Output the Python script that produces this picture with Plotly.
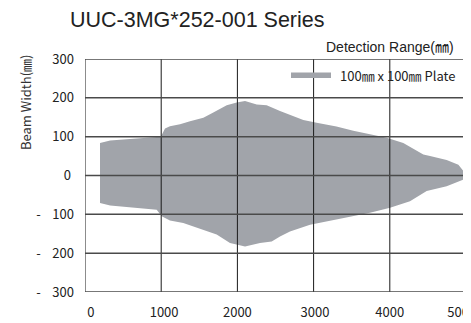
import plotly.graph_objects as go

# ---- data ----
upper_x = [197, 330, 503, 941, 1000, 1050, 1115, 1247, 1378, 1553, 1684, 1860, 1991, 2100,
           2253, 2384, 2559, 2700, 2865, 3040, 3300, 3521, 3750, 3959, 4177, 4300, 4440,
           4528, 4746, 4900, 5000]
upper_y = [84, 90, 93, 99, 102, 121, 127, 132, 140, 149, 162, 181, 188, 192,
           183, 181, 166, 155, 143, 136, 126, 115, 106, 97, 84, 70, 54,
           50, 40, 28, 3]
lower_x = [197, 330, 941, 1007, 1115, 1290, 1553, 1728, 1903, 2100, 2297, 2450, 2559,
           2690, 2953, 3303, 3740, 4003, 4265, 4484, 4746, 4987, 5000]
lower_y = [-71, -77, -88, -105, -116, -122, -140, -152, -174, -183, -174, -170, -157,
           -144, -127, -114, -96, -83, -66, -40, -28, -9, -3]

NB = "\u00a0"
x_ticks = [0, 1000, 2000, 3000, 4000, 5000]
x_labels = [NB * 4 + "0", NB * 2 + "1000", "2000", NB + "3000", "4000", "5000" + NB * 3]
y_ticks = [300, 200, 100, 0, -100, -200, -300]
y_labels = ["300", "200", "100", "0" + NB,
            "-" + NB * 4 + "100", "-" + NB * 4 + "200", "-" + NB * 4 + "300"]

series_name = "100㎜ x 100㎜ Plate"
title_text = "UUC-3MG*252-001 Series"
x_title = "Detection Range(㎜)"
y_title = "Beam Width(㎜)"

FILL = "#a1a4aa"
CJK = "Noto Sans CJK KR"

fig = go.Figure()
fig.add_trace(go.Scatter(
    x=upper_x + lower_x[::-1],
    y=upper_y + lower_y[::-1],
    fill="toself", fillcolor=FILL, mode="lines",
    line=dict(width=0, color=FILL), name=series_name, showlegend=False,
    hoverinfo="skip"))

shapes = []
for v in x_ticks:
    shapes.append(dict(type="line", xref="x", yref="y", x0=v, x1=v,
                       y0=min(y_ticks), y1=max(y_ticks), layer="above",
                       line=dict(color="#1a1a1a", width=1)))
for v in y_ticks:
    shapes.append(dict(type="line", xref="x", yref="y", y0=v, y1=v,
                       x0=min(x_ticks), x1=max(x_ticks), layer="above",
                       line=dict(color="#4a4a4a", width=1.5)))
# legend symbol
shapes.append(dict(type="rect", xref="paper", yref="paper",
                   x0=(291 - 85) / 381, x1=(331 - 85) / 381,
                   y0=(292 - 78) / 233, y1=(292 - 72.5) / 233,
                   fillcolor=FILL, line=dict(width=0), layer="above"))

annotations = [
    dict(text=title_text, xref="paper", yref="paper",
         x=(68 - 85) / 381, y=(292 - 20) / 233, xanchor="left", yanchor="middle",
         showarrow=False, font=dict(family="Liberation Sans", size=21.5, color="#222")),
    dict(text=x_title, xref="paper", yref="paper",
         x=(456 - 85) / 381, y=(292 - 47) / 233, xanchor="right", yanchor="middle",
         showarrow=False, font=dict(family="Liberation Sans, " + CJK, size=14, color="#222")),
    dict(text=y_title, xref="paper", yref="paper", textangle=-90,
         x=(25 - 85) / 381, y=(292 - 103) / 233, xanchor="center", yanchor="middle",
         showarrow=False, font=dict(family=CJK, size=13, color="#333")),
    dict(text=series_name, xref="paper", yref="paper",
         x=(338 - 85) / 381, y=(292 - 75) / 233, xanchor="left", yanchor="middle",
         showarrow=False, font=dict(family=CJK, size=13, color="#222")),
]

# page body has an 8px margin, so the figure is drawn 8px smaller and offset
fig.update_layout(
    width=463, height=315,
    margin=dict(l=77, r=5, t=51, b=31, autoexpand=False),
    paper_bgcolor="white", plot_bgcolor="white",
    showlegend=False,
    shapes=shapes, annotations=annotations,
    xaxis=dict(range=[0, 5000], tickvals=x_ticks, ticktext=x_labels,
               showgrid=False, zeroline=False, showline=False, ticks="",
               ticklabelstandoff=11, automargin=False, ticklabeloverflow="allow",
               tickfont=dict(family=CJK, size=13, color="#222")),
    yaxis=dict(range=[-300, 300], tickvals=y_ticks, ticktext=y_labels,
               showgrid=False, zeroline=False, showline=False, ticks="",
               ticklabelstandoff=10, automargin=False,
               tickfont=dict(family=CJK, size=13, color="#222")),
)

fig.write_html("out.html")
